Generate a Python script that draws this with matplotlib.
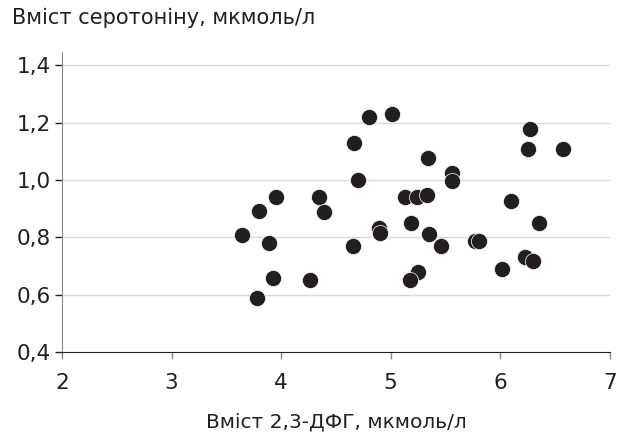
import matplotlib.pyplot as plt
from matplotlib.ticker import FuncFormatter

plt.rcParams['font.family'] = ['DejaVu Sans']

# Вміст 2,3-ДФГ (x) та вміст серотоніну (y)
dpg = [3.64, 3.80, 3.95, 3.89, 3.93, 3.78, 4.26, 4.35, 4.39, 4.67, 4.70, 4.66,
       4.80, 4.89, 4.90, 5.01, 6.27, 6.25, 6.57, 5.34, 5.56, 5.56, 5.13, 5.24,
       5.33, 6.10, 5.19, 6.35, 5.35, 5.46, 5.77, 5.81, 5.25, 5.18, 6.02, 6.23,
       6.30]
serotonin = [0.809, 0.890, 0.939, 0.779, 0.659, 0.588, 0.650, 0.940, 0.889,
             1.129, 0.999, 0.769, 1.220, 0.832, 0.816, 1.228, 1.178, 1.108,
             1.108, 1.078, 1.024, 0.997, 0.939, 0.939, 0.949, 0.928, 0.849,
             0.849, 0.810, 0.769, 0.788, 0.788, 0.680, 0.650, 0.688, 0.732,
             0.718]

x_ticks = [2, 3, 4, 5, 6, 7]
y_ticks = [0.4, 0.6, 0.8, 1.0, 1.2, 1.4]

fig = plt.figure(figsize=(6.26, 4.37), dpi=100)
ax = fig.add_axes([0.099, 0.1945, 0.875, 0.686])

ax.scatter(dpg, serotonin, s=135, color='#231f20', edgecolor='white',
           linewidth=0.5, zorder=3, clip_on=False)

ax.set_xlim(2, 7)
ax.set_ylim(0.4, 1.445)
ax.set_xticks(x_ticks)
ax.set_yticks(y_ticks)
ax.yaxis.set_major_formatter(FuncFormatter(lambda v, p: f'{v:.1f}'.replace('.', ',')))

for yv in y_ticks[1:]:
    ax.axhline(yv, color='#d9d9d9', lw=1.0, zorder=1)

for s in ['top', 'right']:
    ax.spines[s].set_visible(False)
ax.spines['left'].set_color('#8a8a8a')
ax.spines['bottom'].set_color('#231f20')
ax.tick_params(axis='both', labelsize=15.5, colors='#231f20', length=5, width=1)
ax.tick_params(axis='x', color='#8a8a8a', pad=10)
ax.tick_params(axis='y', color='#231f20', pad=3)

ax.set_xlabel('Вміст 2,3-ДФГ, мкмоль/л', fontsize=14.5, color='#231f20', labelpad=14)
fig.text(0.019, 0.958, 'Вміст серотоніну, мкмоль/л', fontsize=15,
         color='#231f20', ha='left', va='center')

fig.savefig('out.png', dpi=100)
